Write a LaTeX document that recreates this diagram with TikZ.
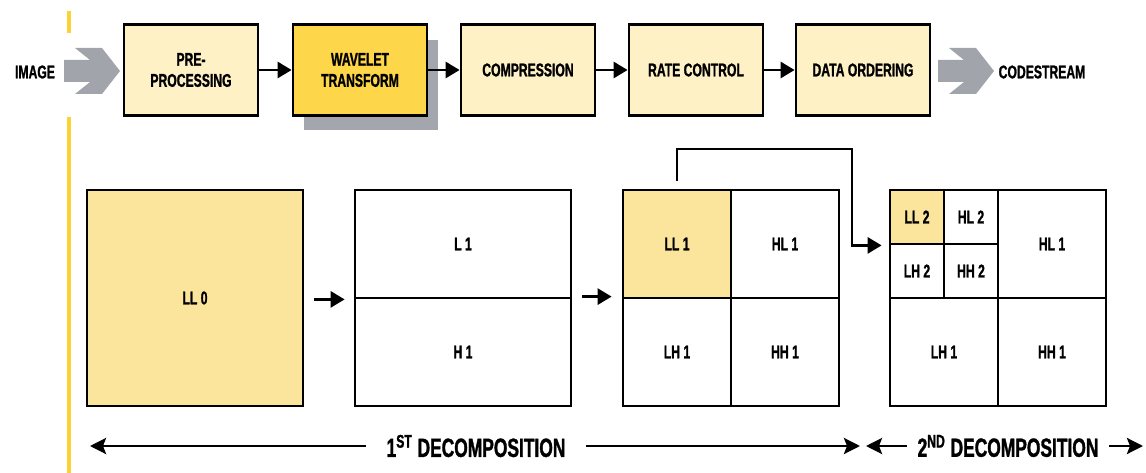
\documentclass[tikz,border=0pt]{standalone}
\usepackage{fontspec}
\newfontfamily\condfont{Liberation Sans}[FakeStretch=0.66, BoldFeatures={FakeBold=1.2}]
\usetikzlibrary{arrows.meta,shadows}
\definecolor{paleyellow}{HTML}{FEF1C6}
\definecolor{wavegold}{HTML}{FDD64A}
\definecolor{bandyellow}{HTML}{FBE59C}
\definecolor{arrowgrey}{HTML}{A1A4AA}
\definecolor{rulegold}{HTML}{FDD235}
\definecolor{shadowgrey}{HTML}{A3A6AC}

\begin{document}
\begin{tikzpicture}[x=0.02cm, y=-0.02cm,
  every node/.style={font=\condfont\bfseries\fontsize{10.5}{12}\selectfont, align=center, inner sep=0pt},
  stage/.style={draw, line width=1.6pt, fill=paleyellow, minimum width=2.68cm, minimum height=1.82cm},
  cell/.style={draw, line width=1.6pt, minimum width=2.16cm, minimum height=2.16cm},
  small/.style={cell, minimum width=1.08cm, minimum height=1.08cm},
  flow/.style={line width=1.6pt, -{Triangle[length=0.28cm,width=0.32cm]}},
  span/.style={line width=1.6pt, -{Stealth[length=0.32cm,width=0.32cm,inset=0.06cm]}},
  bigarrow/.style={fill=arrowgrey}
]
\useasboundingbox (0,0) rectangle (1146,473);
% side rule
\draw[rulegold, line width=1.8pt] (69,11) -- (69,33);
\draw[rulegold, line width=1.8pt] (69,117) -- (69,473);

% coding chain
\node (image) at (35,72) {IMAGE};
\node[stage] (pre) at (191,70) {PRE-\\PROCESSING};
\node[stage, fill=wavegold, drop shadow={shadow xshift=0.22cm, shadow yshift=-0.3cm, fill=shadowgrey, opacity=1}] (wav) at (360,70) {WAVELET\\TRANSFORM};
\node[stage] (comp) at (528,70) {COMPRESSION};
\node[stage] (rate) at (696,70) {RATE CONTROL};
\node[stage] (order) at (863,70) {DATA ORDERING};
\node (code) at (1042,72) {CODESTREAM};
\fill[bigarrow] (64,60) -- (90,60) -- (75,48) -- (102,48) -- (120,71) -- (102,94) -- (75,94) -- (90,82) -- (64,82) -- cycle;
\fill[bigarrow] (938,60) -- (964,60) -- (949,48) -- (976,48) -- (994,71) -- (976,94) -- (949,94) -- (964,82) -- (938,82) -- cycle;
\draw[flow] (pre) -- (wav);
\draw[flow] (wav) -- (comp);
\draw[flow] (comp) -- (rate);
\draw[flow] (rate) -- (order);

% image
\node[cell, fill=bandyellow, minimum width=4.32cm, minimum height=4.32cm] (ll0) at (195,298) {LL 0};

% first level
\node[cell, minimum width=4.32cm] (l1) at (463,244) {L 1};
\node[cell, minimum width=4.32cm] (h1) at (463,352) {H 1};

\node[cell, fill=bandyellow] (ll1) at (677,244) {LL 1};
\node[cell] (hl1) at (785,244) {HL 1};
\node[cell] (lh1) at (677,352) {LH 1};
\node[cell] (hh1) at (785,352) {HH 1};

% second level
\node[small, fill=bandyellow] (ll2) at (917,217) {LL 2};
\node[small] (hl2) at (971,217) {HL 2};
\node[small] (lh2) at (917,271) {LH 2};
\node[small] (hh2) at (971,271) {HH 2};
\node[cell] (hl1b) at (1052,244) {HL 1};
\node[cell] (lh1b) at (944,352) {LH 1};
\node[cell] (hh1b) at (1052,352) {HH 1};

\draw[flow, shorten <=0.2cm, shorten >=0.18cm] (ll0.east |- l1.south) -- (l1.south west);
\draw[flow, shorten <=0.2cm, shorten >=0.2cm] (h1.north east) -- (lh1.north west);
\coordinate (bend) at (852,149);
\draw[flow, shorten >=0.14cm] ([yshift=0.16cm]ll1.north) |- (bend) |- (ll2.south west);

% decomposition spans
\node[font=\condfont\bfseries\fontsize{15}{17}\selectfont] (dec1) at (476,446) {1\textsuperscript{ST} DECOMPOSITION};
\node[font=\condfont\bfseries\fontsize{15}{17}\selectfont] (dec2) at (1008,446) {2\textsuperscript{ND} DECOMPOSITION};
\coordinate (d1l) at (90,446);
\coordinate (d1r) at (860,446);
\coordinate (d2l) at (866,446);
\coordinate (d2r) at (1143,446);
\draw[span, shorten <=0.4cm] (dec1.west) -- (d1l);
\draw[span, shorten <=0.4cm] (dec1.east) -- (d1r);
\draw[span, shorten <=0.2cm] (dec2.west) -- (d2l);
\draw[span, shorten <=0.2cm] (dec2.east) -- (d2r);
\end{tikzpicture}
\end{document}
